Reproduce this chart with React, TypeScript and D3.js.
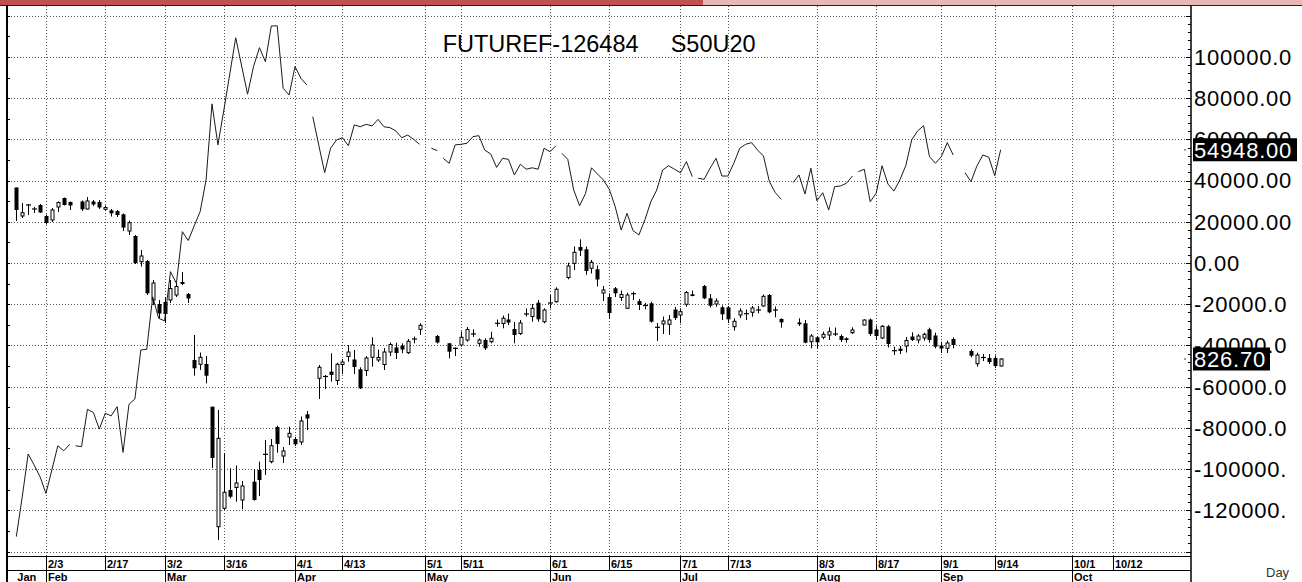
import React, { useEffect, useRef } from 'react';
import * as d3 from 'd3';

// first weekday on the chart, every array below is indexed by weekdays from here
const startDate = '2020-01-27';

const opens = [998.2, 969.7, 980.7, 976.7, 980.7, 969.7, 965.7, 978.7, 987.7, 983.7,
  null, 984.2, 976.7, 984.2, 983.7, 976.4, 975.4, 974.7, 971.4, 954.7,
  949.7, 924.0, 924.7, 885.7, 881.7, 883.7, 885.7, 890.7, 903.7, 891.7,
  825.7, 821.4, 821.7, 779.0, 659.0, 677.4, 695.7, 698.2, 685.7, null,
  704.0, 715.7, 731.4, 724.0, 758.7, 729.7, 748.7, 746.7, 743.7, 771.4,
  null, 807.4, 809.2, 814.0, 805.2, 821.2, 829.2, 826.2, 816.4, 815.2,
  828.4, 825.7, 821.2, 833.7, 838.2, 840.0, 833.0, 846.2, 856.4, null,
  null, 849.7, null, 842.4, 837.4, 840.7, 845.7, 851.7, 842.4, 845.7,
  844.0, 862.4, 862.2, 866.2, 856.7, 852.2, 871.7, 869.2, 883.0, 864.0,
  882.7, 884.0, null, 908.2, 922.4, 938.7, 936.4, 917.4, 916.4, 892.7,
  888.7, 897.4, 888.2, 877.4, 892.0, 884.7, 880.2, 882.4, 858.4, 861.7,
  861.4, 876.2, 870.7, 881.4, 891.4, null, 899.7, 887.4, 881.7, 878.4,
  878.4, 859.0, 870.7, 872.0, 873.4, 875.7, 879.7, 890.7, 875.7, 866.7,
  null, null, 863.2, 862.4, 844.0, 848.4, 848.4, 850.7, 851.7, 849.7,
  847.4, 853.0, null, 860.7, 866.2, 856.2, 847.7, 859.4, 835.0, 837.0,
  839.7, 849.2, 845.7, 847.7, 856.4, 850.2, 840.2, 837.4, 846.7, null,
  null, 834.7, 822.0, 828.2, 827.7, 827.7, 819.7];

const highs = [998.2, 982.7, 981.7, 978.7, 981.7, 971.2, 977.7, 984.2, 988.2, 984.2,
  null, 985.2, 988.7, 985.7, 985.7, 980.2, 976.7, 975.7, 972.2, 965.2,
  950.7, 935.7, 925.7, 905.7, 885.7, 888.7, 905.7, 902.7, 913.7, 892.7,
  850.7, 833.2, 829.7, 779.0, 775.7, 732.4, 717.4, 720.2, 704.7, null,
  716.4, 724.0, 745.7, 746.7, 760.0, 738.7, 759.0, 748.7, 769.2, 774.7,
  null, 820.7, 810.7, 832.4, 823.0, 826.7, 840.7, 835.7, 818.4, 829.7,
  848.4, 836.2, 837.7, 843.2, 843.0, 842.4, 846.7, 849.2, 862.4, null,
  null, 850.7, null, 842.7, 838.2, 854.0, 858.7, 856.4, 847.4, 847.4,
  854.0, 866.2, 870.2, 872.2, 863.7, 865.7, 877.4, 881.7, 885.7, 877.4,
  890.7, 898.4, null, 923.0, 939.2, 946.4, 939.2, 925.7, 920.2, 899.7,
  892.4, 898.7, 895.2, 893.0, 894.0, 886.7, 882.7, 884.0, 862.7, 869.2,
  870.7, 878.7, 877.4, 894.7, 895.2, null, 900.7, 891.7, 887.4, 880.2,
  879.7, 867.4, 877.4, 876.2, 879.7, 879.7, 891.2, 891.7, 879.2, 867.4,
  null, null, 867.4, 865.7, 851.7, 849.7, 854.0, 858.4, 858.2, 851.2,
  848.4, 858.4, null, 866.4, 867.2, 860.2, 860.7, 860.7, 839.0, 839.7,
  848.7, 853.4, 851.7, 853.0, 858.0, 853.0, 844.0, 845.0, 848.2, null,
  null, 836.4, 833.0, 831.7, 831.7, 830.2, 827.7];

const lows = [964.7, 967.7, 970.7, 972.7, 972.7, 961.2, 963.7, 973.7, 980.2, 975.7,
  null, 974.7, 976.2, 979.7, 976.7, 975.2, 969.2, 968.7, 954.7, 950.7,
  921.7, 919.2, 890.7, 880.7, 867.7, 862.7, 882.7, 888.7, 900.7, 882.7,
  810.0, 815.7, 802.4, 717.7, 645.7, 675.7, 687.4, 684.0, 676.4, null,
  685.0, 689.7, 710.7, 722.4, 733.0, 722.7, 740.7, 739.7, 740.7, 755.7,
  null, 786.7, 796.7, 804.0, 800.7, 811.7, 824.0, 811.7, 796.7, 809.7,
  819.0, 823.7, 815.7, 829.7, 826.7, 832.4, 831.7, 842.4, 850.7, null,
  null, 842.2, null, 827.4, 829.7, 839.0, 844.0, 848.7, 839.0, 835.7,
  842.4, 859.0, 857.4, 860.7, 842.4, 850.7, 869.2, 864.0, 864.0, 862.4,
  877.4, 883.0, null, 906.4, 915.7, 929.7, 911.0, 912.2, 899.2, 884.7,
  866.7, 888.7, 884.7, 877.2, 885.7, 875.7, 876.4, 863.0, 844.7, 851.7,
  850.7, 865.7, 862.4, 879.0, 889.4, null, 886.7, 878.2, 879.0, 865.7,
  862.7, 855.0, 867.7, 865.7, 869.0, 872.4, 879.0, 872.4, 868.4, 858.0,
  null, null, 859.7, 842.4, 837.4, 837.4, 846.4, 845.7, 849.7, 843.7,
  843.2, 851.7, null, 860.4, 849.7, 845.7, 846.7, 838.2, 830.7, 831.7,
  833.2, 844.7, 842.4, 845.0, 843.0, 837.4, 832.7, 832.7, 837.4, null,
  null, 828.4, 819.0, 824.7, 821.7, 817.7, 819.2];

const closes = [975.7, 973.0, 980.7, 976.7, 973.2, 962.7, 975.7, 983.2, 980.7, 980.2,
  null, 976.4, 984.7, 981.2, 978.2, 978.2, 972.4, 970.7, 958.2, 963.0,
  922.7, 929.7, 892.4, 902.7, 872.2, 871.7, 897.2, 899.2, 901.7, 887.2,
  817.4, 828.4, 810.0, 727.7, 747.4, 693.4, 689.0, 702.7, 699.7, null,
  685.7, 705.7, 731.4, 740.0, 741.7, 734.7, 752.4, 741.4, 764.7, 767.2,
  null, 818.4, 809.2, 810.7, 821.4, 823.7, 833.7, 818.7, 797.4, 827.7,
  840.7, 828.2, 833.7, 841.2, 832.7, 836.2, 844.4, 847.2, 860.4, null,
  null, 843.2, null, 834.0, 837.4, 848.4, 856.2, 851.7, 845.7, 837.4,
  847.4, 862.4, 867.4, 863.2, 850.7, 862.7, 871.7, 877.4, 866.4, 875.7,
  882.7, 896.4, null, 919.7, 933.4, 935.0, 914.7, 923.4, 906.2, 895.7,
  872.7, 892.4, 891.2, 890.7, 892.0, 880.7, 880.2, 864.0, 858.4, 864.7,
  865.7, 867.7, 874.0, 893.2, 889.7, null, 887.4, 880.0, 884.7, 871.4,
  866.4, 864.4, 874.7, 872.0, 877.7, 875.7, 889.4, 873.4, 875.7, 863.4,
  null, null, 861.4, 843.0, 849.7, 843.4, 851.4, 854.0, 851.7, 845.7,
  845.7, 855.7, null, 865.7, 851.7, 849.7, 859.4, 841.7, 835.0, 834.7,
  845.2, 845.7, 849.7, 851.4, 845.7, 839.0, 837.2, 842.7, 840.7, null,
  null, 830.0, 830.7, 828.2, 823.7, 819.7, 826.7];

// second series, in thousands, read against the right-hand axis
const lineValues = [-132.8, -113.5, -92.7, -98.0, -103.7, -111.8, -100.4, -88.7, -91.1, -88.0,
  -88.7, -89.1, -71.0, -72.6, -80.6, -72.9, -74.2, -69.7, -91.9, -68.6,
  -66.0, -42.2, -41.9, -16.4, -26.8, -28.1, -4.2, -9.9, 15.2, 10.9,
  18.0, 24.9, 40.3, 77.2, 57.3, 74.2, 91.7, 109.3, 95.6, 81.9,
  95.3, 104.5, 97.7, 115.0, 115.1, 84.8, 81.5, 95.3, 89.6, 86.4,
  71.0, 57.3, 43.8, 55.7, 59.7, 60.8, 56.9, 67.0, 66.1, 67.3,
  66.5, 69.7, 66.1, 65.7, 64.1, 60.8, 62.1, 60.0, 57.6, 56.8,
  55.7, 54.5, 50.8, 48.4, 57.3, 57.6, 58.1, 61.3, 61.8, 54.8,
  52.9, 46.4, 50.8, 50.3, 42.7, 47.9, 45.5, 46.2, 45.5, 55.7,
  54.0, 56.9, 53.2, 50.3, 35.4, 27.8, 33.8, 46.2, 43.2, 40.3,
  35.8, 27.3, 16.0, 24.1, 15.7, 13.6, 20.9, 29.7, 35.4, 45.1,
  47.2, 45.5, 43.8, 49.2, 41.9, 41.1, 40.6, 46.0, 50.8, 42.2,
  42.2, 48.4, 55.7, 57.6, 58.4, 54.8, 51.9, 39.5, 34.1, 30.9,
  32.0, 39.0, 42.7, 33.5, 46.0, 30.2, 34.1, 25.7, 37.0, 37.4,
  38.7, 42.2, 44.3, 45.5, 29.7, 33.8, 47.2, 38.3, 34.9, 40.3,
  47.2, 59.7, 64.1, 66.6, 51.6, 48.4, 51.6, 58.4, 52.4, 48.0,
  43.8, 39.5, 47.1, 52.4, 51.3, 42.4, 54.948];

// market holidays: the line is not drawn into these days
const holidays = ['2020-02-10', '2020-04-06', '2020-05-01', '2020-05-04', '2020-05-06',
  '2020-06-03', '2020-07-06', '2020-07-27', '2020-07-28', '2020-08-12', '2020-09-04', '2020-09-07'];

const weekTicks = [
  ['2020-02-03', '2/3'], ['2020-02-17', '2/17'], ['2020-03-02', '3/2'], ['2020-03-16', '3/16'],
  ['2020-04-01', '4/1'], ['2020-04-13', '4/13'], ['2020-05-01', '5/1'], ['2020-05-11', '5/11'],
  ['2020-06-01', '6/1'], ['2020-06-15', '6/15'], ['2020-07-01', '7/1'], ['2020-07-13', '7/13'],
  ['2020-08-03', '8/3'], ['2020-08-17', '8/17'], ['2020-09-01', '9/1'], ['2020-09-14', '9/14'],
  ['2020-10-01', '10/1'], ['2020-10-12', '10/12']];

const monthTicks = [
  ['2020-02-03', 'Feb'], ['2020-03-02', 'Mar'], ['2020-04-01', 'Apr'], ['2020-05-01', 'May'],
  ['2020-06-01', 'Jun'], ['2020-07-01', 'Jul'], ['2020-08-03', 'Aug'], ['2020-09-01', 'Sep'],
  ['2020-10-01', 'Oct']];

const valueTicks = [100000, 80000, 60000, 40000, 20000, 0, -20000, -40000, -60000, -80000, -100000, -120000];

const titleLeft = 'FUTUREF-126484';
const titleRight = 'S50U20';
const lastLineValue = 54948.0;
const lastClose = 826.7;

const W = 1302;
const H = 582;
const FONT = "Arial, 'Liberation Sans', sans-serif";

function weekdayIndex(dateStr: string) {
  const s = d3.utcParse('%Y-%m-%d')(startDate) as Date;
  const d = d3.utcParse('%Y-%m-%d')(dateStr) as Date;
  return d3.utcDay.range(s, d).filter(t => t.getUTCDay() % 6 !== 0).length;
}

function App() {
  const ref = useRef<SVGSVGElement>(null);

  useEffect(() => {
    const left = 7;
    const right = 1191;
    const top = 5;
    const plotBottom = 556.5;
    const rowLine = 570.5;

    const svg = d3.select(ref.current);
    svg.selectAll('*').remove();

    const x = d3.scaleLinear().domain([-1.57, 198.1]).range([left, right]);
    const y = d3.scaleLinear().domain([-140000, 120000]).range([551.5, 15.7]);
    // candles carry their own hidden price scale
    const py = d3.scaleLinear().domain([634.2, 1170]).range([551.5, 15.7]);

    svg.append('rect').attr('width', W).attr('height', H).attr('fill', '#fff');

    // top bar
    svg.append('rect').attr('x', 0).attr('y', 0).attr('width', 703).attr('height', 5).attr('fill', '#c0504d');
    svg.append('rect').attr('x', 703).attr('y', 0).attr('width', W - 703).attr('height', 5).attr('fill', '#e6b8b7');
    svg.append('line').attr('x1', 0).attr('x2', W).attr('y1', 5.5).attr('y2', 5.5).attr('stroke', '#222');

    // grid
    const grid = svg.append('g').attr('stroke', '#555').attr('stroke-dasharray', '1 2').attr('stroke-width', 1);
    d3.range(-140000, 120001, 20000).forEach(v => {
      const yy = Math.round(y(v)) + 0.5;
      grid.append('line').attr('x1', left + 1).attr('x2', right).attr('y1', yy).attr('y2', yy);
    });
    weekTicks.forEach(([d]) => {
      const xx = Math.round(x(weekdayIndex(d))) + 0.5;
      grid.append('line').attr('x1', xx).attr('x2', xx).attr('y1', top + 1).attr('y2', plotBottom);
    });

    // title
    svg.append('text').attr('x', 442.7).attr('y', 52).attr('font-family', FONT).attr('font-size', 23.5)
      .attr('fill', '#000').text(titleLeft);
    svg.append('text').attr('x', 670.7).attr('y', 52).attr('font-family', FONT).attr('font-size', 23.5)
      .attr('fill', '#000').text(titleRight);

    // candles
    const candles = svg.append('g');
    opens.forEach((o, i) => {
      if (o === null) return;
      const hi = highs[i] as number;
      const lo = lows[i] as number;
      const c = closes[i] as number;
      const cx = Math.round(x(i)) + 0.5;
      candles.append('line').attr('x1', cx).attr('x2', cx).attr('y1', py(hi)).attr('y2', py(lo))
        .attr('stroke', '#000').attr('stroke-width', 1);
      const yTop = py(Math.max(o, c));
      const yBot = py(Math.min(o, c));
      if (yBot - yTop < 1.5) {
        candles.append('line').attr('x1', cx - 2.5).attr('x2', cx + 2.5)
          .attr('y1', (yTop + yBot) / 2).attr('y2', (yTop + yBot) / 2)
          .attr('stroke', '#000').attr('stroke-width', 1.2);
      } else if (c > o) {
        candles.append('rect').attr('x', cx - 1.5).attr('y', yTop).attr('width', 3).attr('height', yBot - yTop)
          .attr('fill', '#fff').attr('stroke', '#000').attr('stroke-width', 1);
      } else {
        candles.append('rect').attr('x', cx - 2).attr('y', yTop).attr('width', 4).attr('height', yBot - yTop)
          .attr('fill', '#000');
      }
    });

    // line series, broken where the next day is a holiday
    const holidayIdx = new Set(holidays.map(weekdayIndex));
    const lineG = svg.append('g').attr('fill', 'none').attr('stroke', '#1a1a1a').attr('stroke-width', 1);
    let run: [number, number][] = [];
    const flush = () => {
      if (run.length > 1) lineG.append('path').attr('d', d3.line()(run));
      run = [];
    };
    lineValues.forEach((v, i) => {
      if (holidayIdx.has(i)) flush();
      run.push([x(i), y(v * 1000)]);
    });
    flush();

    // left border
    svg.append('line').attr('x1', left).attr('x2', left).attr('y1', top).attr('y2', H)
      .attr('stroke', '#000').attr('stroke-width', 2);
    d3.range(-140000, 120001, 10000).forEach(v => {
      const yy = Math.round(y(v)) + 0.5;
      svg.append('line').attr('x1', left).attr('x2', left + 3).attr('y1', yy).attr('y2', yy).attr('stroke', '#000');
    });

    // right axis
    svg.append('line').attr('x1', right).attr('x2', right).attr('y1', top).attr('y2', H)
      .attr('stroke', '#000').attr('stroke-width', 1.5);
    d3.range(-140000, 120001, 4000).forEach(v => {
      const yy = Math.round(y(v)) + 0.5;
      const len = v % 20000 === 0 ? 5 : 3;
      svg.append('line').attr('x1', right - len).attr('x2', right).attr('y1', yy).attr('y2', yy).attr('stroke', '#000');
    });
    valueTicks.forEach(v => {
      svg.append('text').attr('x', 1194).attr('y', y(v) + 7.9).attr('font-family', FONT).attr('font-size', 22)
        .attr('letter-spacing', 0.8).attr('fill', '#000').text(v.toFixed(2).slice(0, 8));
    });

    // last value markers
    const markers = [
      { yy: y(lastLineValue), label: lastLineValue.toFixed(2), w: 104 },
      { yy: py(lastClose), label: lastClose.toFixed(2), w: 77 },
    ];
    markers.forEach(m => {
      svg.append('circle').attr('cx', 1185).attr('cy', m.yy).attr('r', 1).attr('fill', '#777');
      svg.append('rect').attr('x', 1193).attr('y', m.yy - 11.5).attr('width', m.w).attr('height', 23).attr('fill', '#000');
      svg.append('text').attr('x', 1194).attr('y', m.yy + 7.9).attr('font-family', FONT).attr('font-size', 22)
        .attr('letter-spacing', 0.8).attr('fill', '#fff').text(m.label);
    });

    // bottom date axis
    svg.append('line').attr('x1', left).attr('x2', right).attr('y1', plotBottom).attr('y2', plotBottom).attr('stroke', '#000');
    svg.append('line').attr('x1', left).attr('x2', right).attr('y1', rowLine).attr('y2', rowLine).attr('stroke', '#000');
    weekTicks.forEach(([d, label]) => {
      const xx = Math.round(x(weekdayIndex(d))) + 0.5;
      svg.append('line').attr('x1', xx).attr('x2', xx).attr('y1', plotBottom).attr('y2', rowLine).attr('stroke', '#000');
      svg.append('text').attr('x', xx + 1.5).attr('y', 568).attr('font-family', FONT).attr('font-size', 11)
        .attr('font-weight', 'bold').attr('fill', '#000').text(label);
    });
    monthTicks.forEach(([d, label]) => {
      const xx = Math.round(x(weekdayIndex(d))) + 0.5;
      svg.append('line').attr('x1', xx).attr('x2', xx).attr('y1', rowLine).attr('y2', H).attr('stroke', '#000');
      svg.append('text').attr('x', xx + 1.5).attr('y', 580.5).attr('font-family', FONT).attr('font-size', 11)
        .attr('font-weight', 'bold').attr('fill', '#000').text(label);
    });
    svg.append('text').attr('x', x(0) + 1).attr('y', 580.5).attr('font-family', FONT).attr('font-size', 11)
      .attr('font-weight', 'bold').attr('fill', '#000').text('Jan');
    svg.append('text').attr('x', 1266).attr('y', 577).attr('font-family', FONT).attr('font-size', 13)
      .attr('fill', '#333').text('Day');
  }, []);

  return (
    <svg ref={ref} width={W} height={H}
      style={{ position: 'absolute', left: 0, top: 0, display: 'block' }} />
  );
}

export default App;
